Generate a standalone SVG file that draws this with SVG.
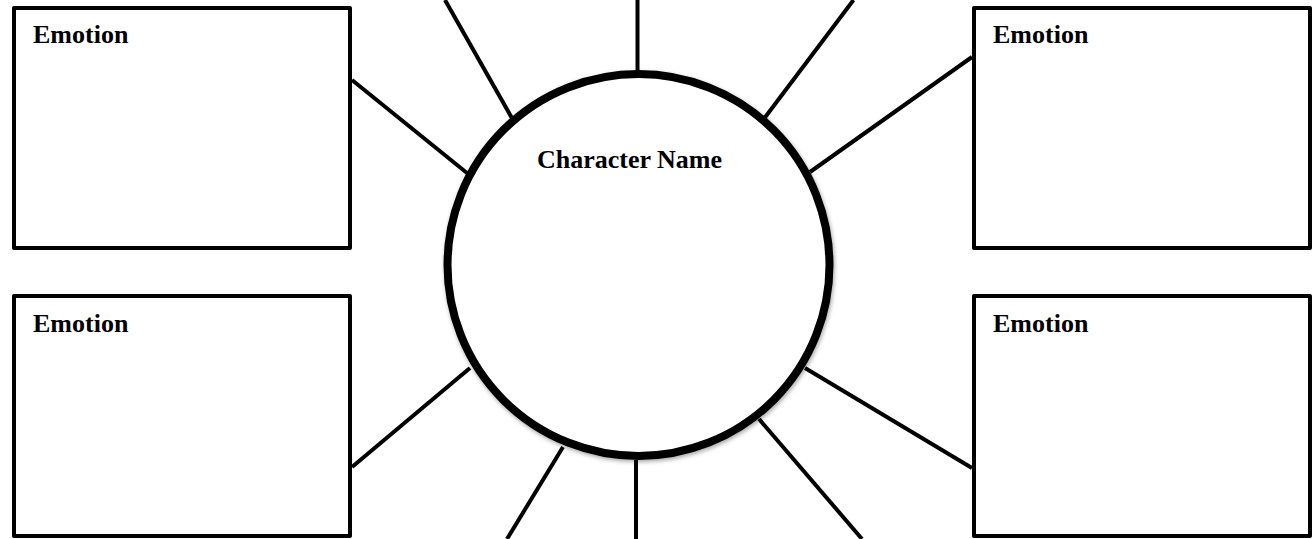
<svg xmlns="http://www.w3.org/2000/svg" width="1315" height="539" viewBox="0 0 1315 539">
<style>
.box{fill:#fff;stroke:#000;stroke-width:4;stroke-linejoin:round}
.lbl{font-family:"Liberation Serif","Times New Roman",serif;font-weight:bold;font-size:26px;fill:#000}
.conn line{stroke:#000;stroke-width:4}
.circ{fill:#fff;stroke:#000;stroke-width:8}
</style>
<defs>
<filter id="sh" x="-10%" y="-10%" width="120%" height="120%">
<feDropShadow dx="1" dy="2" stdDeviation="2" flood-color="#000" flood-opacity="0.35"/>
</filter>
</defs>
<rect width="1315" height="539" fill="#fff"/>
<g id="connectors" class="conn">
<line x1="352" y1="80" x2="467" y2="173"/>
<line x1="352" y1="467" x2="470" y2="368"/>
<line x1="972" y1="57" x2="810" y2="172"/>
<line x1="972" y1="468" x2="805" y2="368"/>
<line x1="445" y1="0" x2="517" y2="127"/>
<line x1="637.5" y1="0" x2="637.5" y2="79"/>
<line x1="853.5" y1="0" x2="760" y2="124"/>
<line x1="563" y1="447" x2="507" y2="539"/>
<line x1="636" y1="460" x2="636" y2="539"/>
<line x1="759" y1="419" x2="862" y2="539"/>
</g>
<g id="character">
<circle class="circ" cx="638.5" cy="265" r="191" filter="url(#sh)"/>
<text class="lbl" x="537" y="168">Character Name</text>
</g>
<g id="emotion-tl">
<rect class="box" x="14" y="8" width="336" height="240"/>
<text class="lbl" x="33" y="43">Emotion</text>
</g>
<g id="emotion-bl">
<rect class="box" x="14" y="296" width="336" height="240"/>
<text class="lbl" x="33" y="331.5">Emotion</text>
</g>
<g id="emotion-tr">
<rect class="box" x="974" y="8" width="336" height="240"/>
<text class="lbl" x="993" y="43">Emotion</text>
</g>
<g id="emotion-br">
<rect class="box" x="974" y="296" width="336" height="240"/>
<text class="lbl" x="993" y="331.5">Emotion</text>
</g>
</svg>
